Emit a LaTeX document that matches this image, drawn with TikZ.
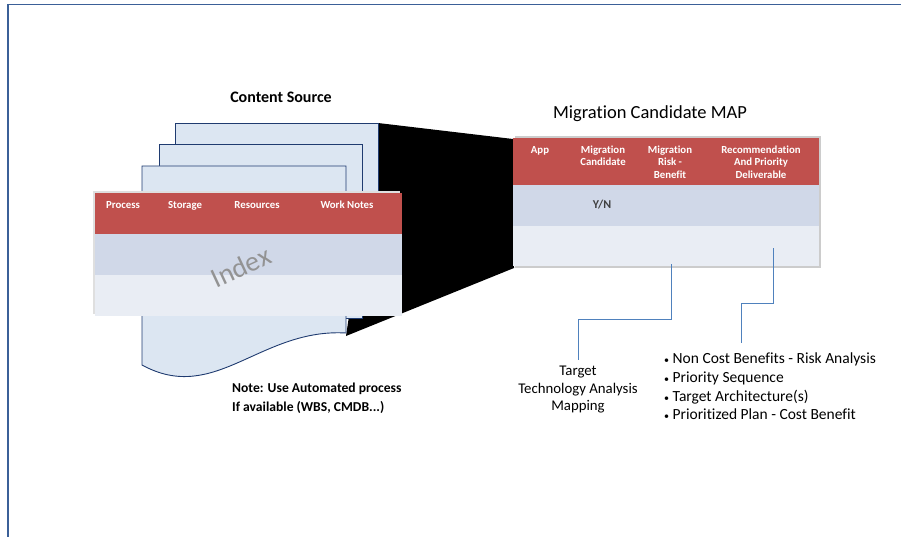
\documentclass[tikz,border=0pt]{standalone}
\usepackage{fontspec}
\setmainfont{Carlito}[Ligatures=NoCommon]
\usetikzlibrary{positioning}
\definecolor{hdred}{HTML}{C0504D}
\definecolor{rowgray}{HTML}{D0D8E8}
\definecolor{rowlight}{HTML}{E9EDF4}
\definecolor{pagefill}{HTML}{DCE6F2}
\definecolor{pageline}{HTML}{1F3B70}
\definecolor{linkblue}{HTML}{4F81BD}
\definecolor{framecol}{HTML}{3B6098}
\newcommand{\bul}{{\fontsize{10}{10}\selectfont\textbullet}\ }
\begin{document}
\begin{tikzpicture}[x=1pt,y=-1pt,
  page/.style={fill=pagefill,draw=pageline,line width=.9pt},
  hdr/.style={text=white,inner sep=0pt,font=\bfseries\fontsize{10.8}{12.5}\selectfont,align=center,anchor=north},
  link/.style={draw=linkblue,line width=.9pt},
  txt/.style={inner sep=0pt,font=\fontsize{15.5}{18.8}\selectfont}]
\useasboundingbox (0,0) rectangle (901,537);
\draw[framecol,line width=1.2pt] (8,537)--(8,4.5)--(901,4.5);
% funnel behind the pages
\fill[black] (378,123)--(513,139)--(514,268)--(346,336)--cycle;
% stacked pages
\draw[page] (175,123) rectangle (378,300);
\draw[page] (159,144) rectangle (362,318);
\draw[page] (142,166)--(346,166)--(346,333) .. controls (260,328) and (215,405) .. (142,365)--cycle;
% index table
\fill[gray!25] (93,191) rectangle (400,314);
\fill[hdred] (95,193) rectangle (402,234);
\fill[rowgray] (95,234) rectangle (402,275);
\fill[rowlight] (95,275) rectangle (402,316);
\node[hdr,anchor=base] (process) at (123,208.5) {Process};
\node[hdr,anchor=base] (storage) at (185,208.5) {Storage};
\node[hdr,anchor=base] (resources) at (257,208.5) {Resources};
\node[hdr,anchor=base] (worknotes) at (347,208.5) {Work Notes};
\node[rotate=25,text=gray!85,font=\fontsize{28}{28}\selectfont] (index) at (241,267) {Index};
\node[font=\bfseries\fontsize{16}{18}\selectfont] (source) at (281,97) {Content Source};
% migration map
\fill[gray!40] (515,136) rectangle (821,268);
\fill[hdred] (513,138) rectangle (819,185);
\fill[rowgray] (513,185) rectangle (819,226);
\fill[rowlight] (513,226) rectangle (819,266);
\node[font=\fontsize{18.5}{21}\selectfont] (maptitle) at (650,114) {Migration Candidate MAP};
\node[hdr,anchor=base] (app) at (540,153.5) {App};
\node[hdr] (cand) at (603,145.5) {Migration\\Candidate};
\node[hdr] (risk) at (670,145.5) {Migration\\Risk -\\Benefit};
\node[hdr] (recom) at (761,145.5) {Recommendation\\And Priority\\Deliverable};
\node[font=\bfseries\fontsize{12}{14}\selectfont,text=black!75] (yn) at (602,205) {Y/N};
% outputs
\node[txt,align=center,anchor=north,inner ysep=6pt,font=\fontsize{14.8}{17.6}\selectfont] (tgt) at (578,360)
  {Target\\Technology Analysis\\Mapping};
\node[txt,align=left,anchor=north west] (bullets) at (664,352.5)
  {\bul Non Cost Benefits - Risk Analysis\\\bul Priority Sequence\\
   \bul Target Architecture(s)\\\bul Prioritized Plan - Cost Benefit};
\node[txt,align=left,anchor=north west,font=\bfseries\fontsize{13.6}{19}\selectfont] (note) at (232,383)
  {Note: Use Automated process\\If available (WBS, CMDB...)};
\coordinate (riskout) at (671,264);
\coordinate (riskbend) at (671,319);
\coordinate (recout) at (773,248);
\coordinate (recbend) at (773,303);
\coordinate (recend) at (741,343);
\draw[link] (riskout)--(riskbend)-|(tgt.north);
\draw[link] (recout)--(recbend)-|(recend);
\end{tikzpicture}
\end{document}
